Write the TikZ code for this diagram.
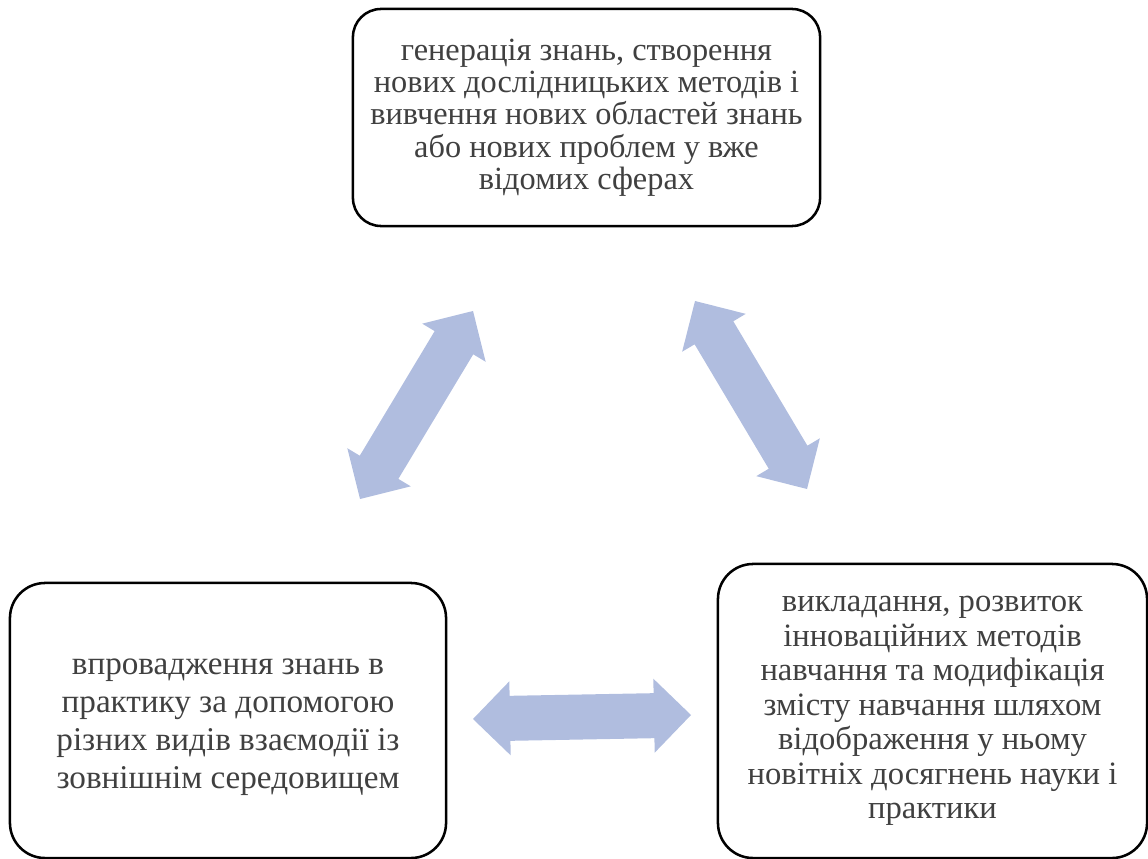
\documentclass[tikz,border=0pt]{standalone}
\usepackage{fontspec}
\setmainfont{Liberation Serif}
\usetikzlibrary{calc}

\definecolor{arrowblue}{RGB}{176,189,223}
\definecolor{textgray}{RGB}{64,64,64}

\tikzset{
  block/.style={draw=black, line width=1.8pt, align=center, text=textgray, inner sep=0pt},
  link/.style={fill=arrowblue},
}

% double block arrow between two named coordinates
\newcommand{\blockarrow}[2]{%
  \fill[link] (#1)
    -- ($(#1)!0.925cm!(#2)!0.925cm!90:(#2)$)
    -- ($(#1)!0.925cm!(#2)!0.5625cm!90:(#2)$)
    -- ($(#2)!0.925cm!(#1)!0.5625cm!-90:(#1)$)
    -- ($(#2)!0.925cm!(#1)!0.925cm!-90:(#1)$)
    -- (#2)
    -- ($(#2)!0.925cm!(#1)!0.925cm!90:(#1)$)
    -- ($(#2)!0.925cm!(#1)!0.5625cm!90:(#1)$)
    -- ($(#1)!0.925cm!(#2)!0.5625cm!-90:(#2)$)
    -- ($(#1)!0.925cm!(#2)!0.925cm!-90:(#2)$)
    -- cycle;}

\begin{document}
\begin{tikzpicture}[x=0.025cm, y=-0.025cm]
  \useasboundingbox (0,0) rectangle (1148,859);

  \node[block, rounded corners=20pt, minimum width=11.675cm, minimum height=5.425cm,
    font=\fontsize{23}{23}\selectfont] (research) at (586.5,117.5)
    {генерація знань, створення\\нових дослідницьких методів і\\вивчення нових областей знань\\або нових проблем у вже\\відомих сферах};
  \node[block, rounded corners=25pt, minimum width=10.9cm, minimum height=6.875cm,
    font=\fontsize{23.6}{27}\selectfont] (practice) at (228,720.5)
    {\\[-6pt]впровадження знань в\\практику за допомогою\\різних видів взаємодії із\\зовнішнім середовищем};
  \node[block, rounded corners=25pt, minimum width=10.725cm, minimum height=7.35cm,
    font=\fontsize{23.2}{24.5}\selectfont] (teaching) at (932.5,711)
    {викладання, розвиток\\інноваційних методів\\навчання та модифікація\\змісту навчання шляхом\\відображення у ньому\\новітніх досягнень науки і\\практики};

  % arrows
  \coordinate (rp1) at (360,499);
  \coordinate (rp2) at (473,311);
  \coordinate (rt1) at (695,301);
  \coordinate (rt2) at (807,489);
  \coordinate (pt1) at (473,719);
  \coordinate (pt2) at (691,715);
  \blockarrow{rp1}{rp2}
  \blockarrow{rt1}{rt2}
  \blockarrow{pt1}{pt2}
\end{tikzpicture}
\end{document}
